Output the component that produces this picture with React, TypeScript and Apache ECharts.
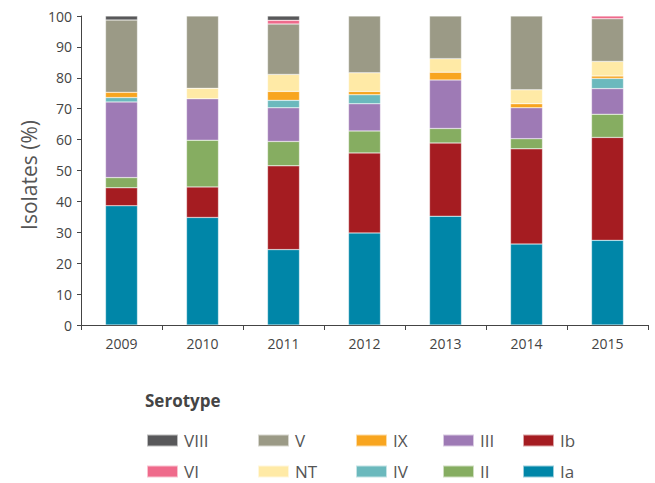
import React, { useEffect, useRef } from "react";
import * as echarts from "echarts";

const years = ["2009", "2010", "2011", "2012", "2013", "2014", "2015"];
const Ia = [38.6, 34.8, 24.4, 29.8, 35.2, 26.2, 27.4];
const Ib = [5.8, 9.9, 27.1, 25.9, 23.7, 30.8, 33.3];
const II = [3.3, 15.1, 7.9, 7.1, 4.7, 3.3, 7.5];
const III = [24.5, 13.4, 10.9, 8.8, 15.7, 10.0, 8.3];
const IV = [1.4, null, 2.4, 2.9, null, null, 3.3];
const IX = [1.7, null, 2.9, 1.1, 2.5, 1.3, 0.8];
const NT = [null, 3.4, 5.5, 6.0, 4.4, 4.5, 4.7];
const V = [23.4, 23.4, 16.3, 18.4, 13.8, 23.9, 13.8];
const VI = [null, null, 1.2, null, null, null, 0.9];
const VIII = [1.3, null, 1.4, null, null, null, null];

const seriesDefs: { name: string; data: (number | null)[]; color: string }[] = [
  { name: "Ia", data: Ia, color: "#0086a8" },
  { name: "Ib", data: Ib, color: "#a51c21" },
  { name: "II", data: II, color: "#86ad61" },
  { name: "III", data: III, color: "#9e7ab5" },
  { name: "IV", data: IV, color: "#6bb9bd" },
  { name: "IX", data: IX, color: "#f8a51f" },
  { name: "NT", data: NT, color: "#ffeaa6" },
  { name: "V", data: V, color: "#9b9a86" },
  { name: "VI", data: VI, color: "#ef6a8b" },
  { name: "VIII", data: VIII, color: "#58585a" },
];

const legendColumns = [
  ["VIII", "VI"],
  ["V", "NT"],
  ["IX", "IV"],
  ["III", "II"],
  ["Ib", "Ia"],
];
const legendLefts = [146, 257, 355, 442, 522];

const FONT = "'Open Sans', 'Noto Sans', sans-serif";

export default function App() {
  const ref = useRef<HTMLDivElement>(null);
  useEffect(() => {
    if (!ref.current) return;
    const chart = echarts.init(ref.current, null, { renderer: "svg" });
    chart.setOption({
      animation: false,
      textStyle: { fontFamily: FONT },
      title: {
        text: "Serotype",
        left: 145,
        top: 392,
        padding: 0,
        textStyle: { fontSize: 17, fontWeight: "bold", color: "#444", fontFamily: FONT },
      },
      graphic: [
        {
          type: "text",
          x: 29,
          y: 175,
          rotation: Math.PI / 2,
          style: {
            text: "Isolates (%)",
            fontSize: 21,
            fill: "#555",
            fontFamily: FONT,
            align: "center",
            verticalAlign: "middle",
          },
        },
      ],
      legend: legendColumns.map((col, i) => ({
        data: col,
        orient: "vertical",
        left: legendLefts[i],
        top: 432,
        padding: 0,
        itemWidth: 31,
        itemHeight: 12,
        itemGap: 14,
        icon: "rect",
        selectedMode: false,
        textStyle: { fontSize: 17, lineHeight: 17, color: "#555", fontFamily: FONT, padding: [0, 0, 0, 1] },
      })),
      grid: { left: 81, right: 7, top: 16, bottom: 158, containLabel: false },
      xAxis: {
        type: "category",
        data: years,
        axisLine: { lineStyle: { color: "#444", width: 1 } },
        axisTick: { show: true, length: 5, alignWithLabel: false, lineStyle: { color: "#444" } },
        axisLabel: { color: "#444", fontSize: 14, margin: 11, fontFamily: FONT },
      },
      yAxis: {
        type: "value",
        min: 0,
        max: 100,
        interval: 10,
        splitLine: { show: false },
        axisLine: { show: true, lineStyle: { color: "#444", width: 1 } },
        axisTick: { show: true, length: 4, lineStyle: { color: "#444" } },
        axisLabel: { color: "#444", fontSize: 14, margin: 9, fontFamily: FONT },
      },
      series: seriesDefs.map((s) => ({
        name: s.name,
        type: "bar",
        stack: "total",
        barWidth: 32,
        data: s.data,
        itemStyle: { color: s.color, borderColor: "rgba(255,255,255,0.6)", borderWidth: 0.5 },
        emphasis: { disabled: true },
      })),
    });
    return () => chart.dispose();
  }, []);
  return (
    <div
      ref={ref}
      style={{ position: "fixed", left: 0, top: 0, width: 655, height: 483, background: "#fff" }}
    />
  );
}
